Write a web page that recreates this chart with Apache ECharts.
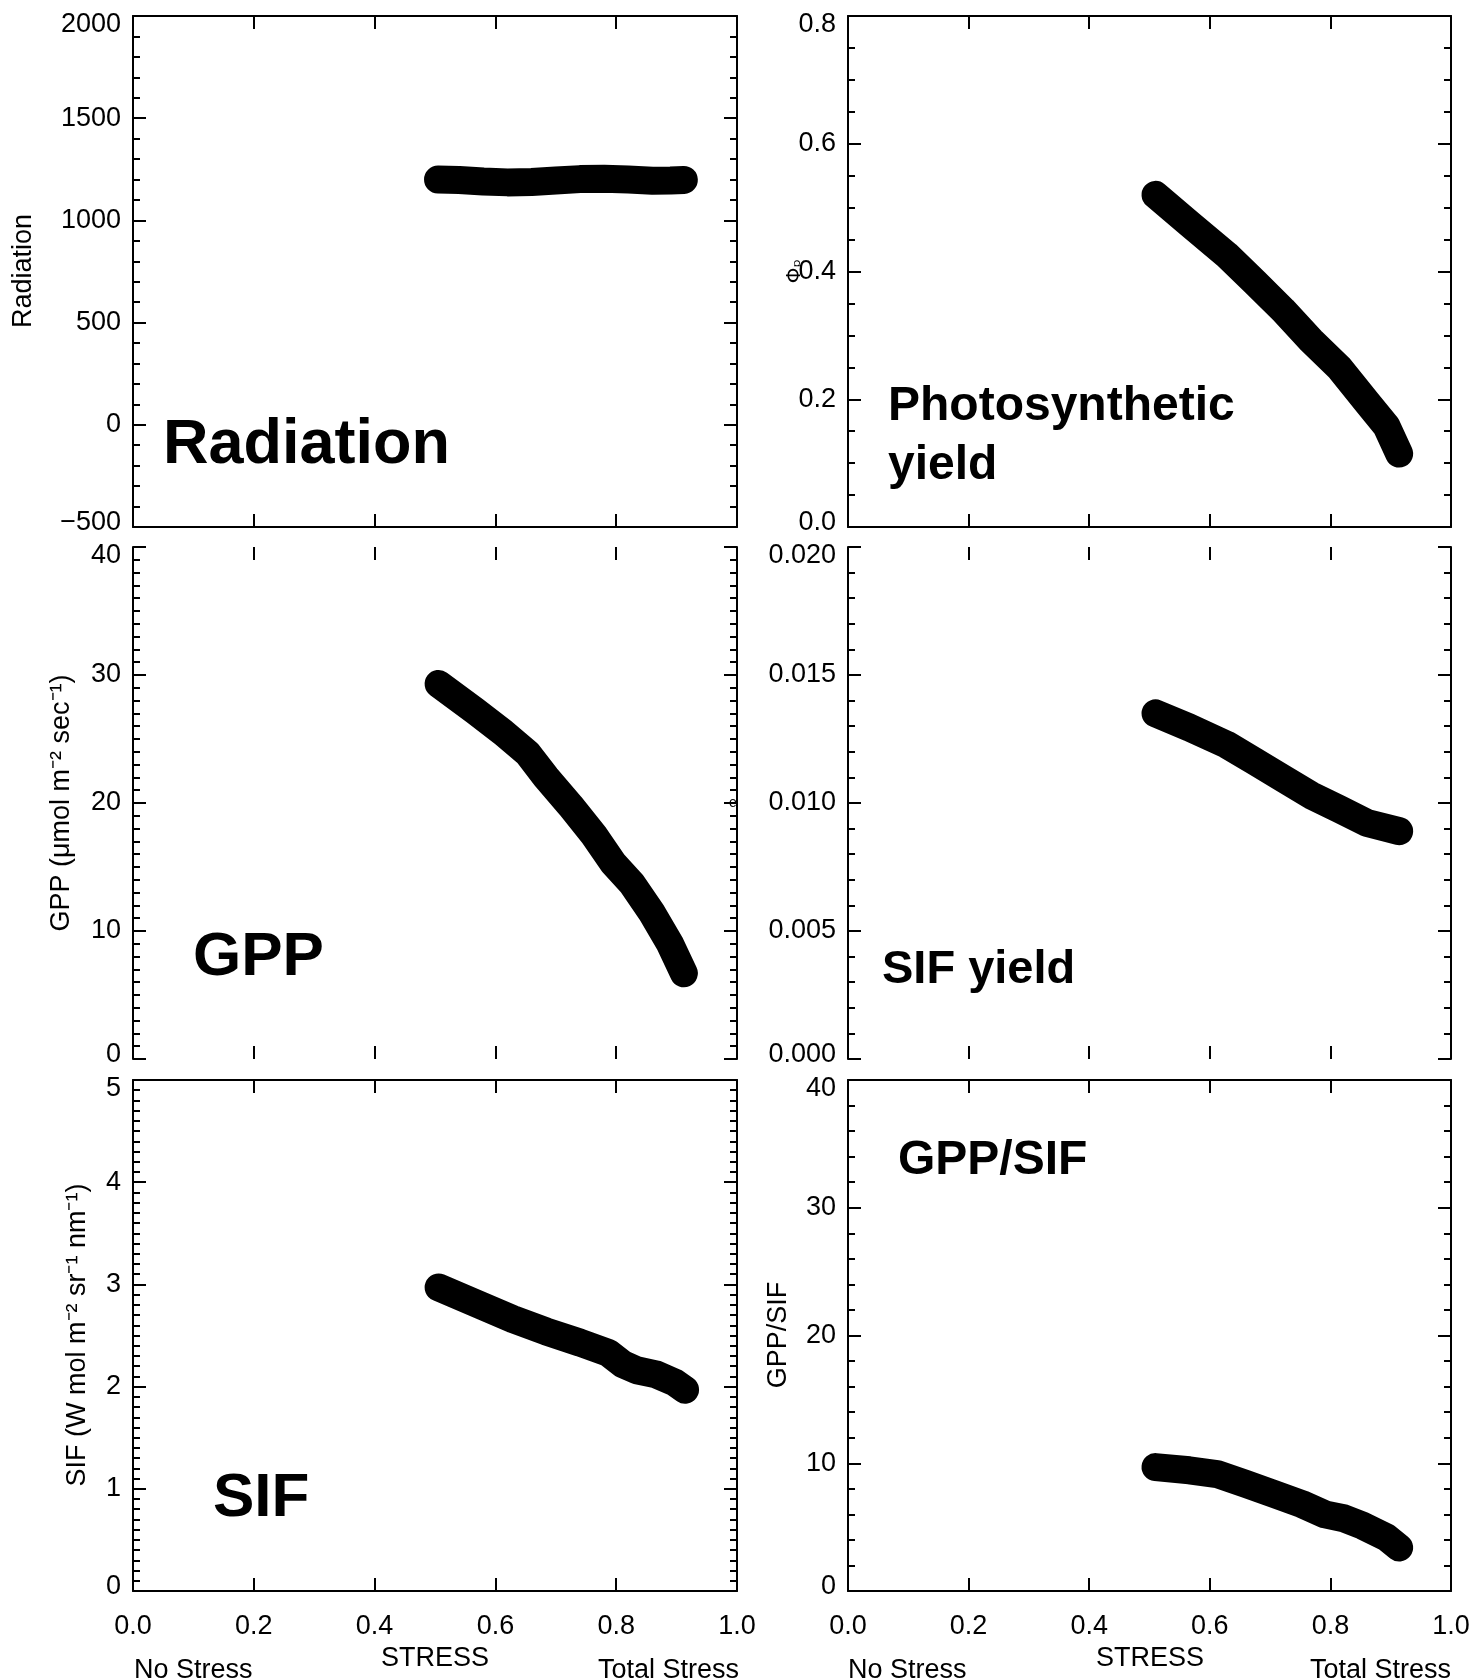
<!DOCTYPE html>
<html>
<head>
<meta charset="utf-8">
<script src="https://cdn.jsdelivr.net/npm/echarts@6/dist/echarts.min.js"></script>
<style>
html,body{margin:0;padding:0;background:#fff;}
#c{width:1473px;height:1680px;}
</style>
</head>
<body>
<div id="c"></div>
<script>
// ---- data ----
const stressTicks = [0.0, 0.2, 0.4, 0.6, 0.8, 1.0];

const radX = [0.505, 0.54, 0.58, 0.62, 0.66, 0.70, 0.74, 0.78, 0.82, 0.86, 0.89, 0.912];
const radY = [1200, 1198, 1190, 1186, 1188, 1195, 1202, 1204, 1200, 1194, 1195, 1198];

const phiX = [0.510, 0.566, 0.628, 0.675, 0.721, 0.768, 0.815, 0.861, 0.893, 0.914];
const phiY = [0.520, 0.475, 0.426, 0.383, 0.340, 0.292, 0.249, 0.195, 0.158, 0.115];

const gppX = [0.506, 0.566, 0.613, 0.653, 0.684, 0.724, 0.763, 0.795, 0.826, 0.858, 0.889, 0.912];
const gppY = [29.3, 27.2, 25.5, 23.9, 22.0, 19.8, 17.5, 15.3, 13.7, 11.5, 9.0, 6.7];

const syX = [0.510, 0.566, 0.628, 0.675, 0.721, 0.768, 0.815, 0.861, 0.914];
const syY = [0.01350, 0.01295, 0.01228, 0.01162, 0.01097, 0.01030, 0.00976, 0.00922, 0.00890];

const sifX = [0.506, 0.566, 0.629, 0.684, 0.740, 0.787, 0.811, 0.834, 0.866, 0.897, 0.914];
const sifY = [2.97, 2.82, 2.66, 2.54, 2.43, 2.33, 2.22, 2.16, 2.12, 2.04, 1.97];

const ratioX = [0.510, 0.566, 0.612, 0.659, 0.706, 0.753, 0.791, 0.822, 0.854, 0.893, 0.914];
const ratioY = [9.7, 9.45, 9.15, 8.4, 7.6, 6.8, 6.0, 5.7, 5.1, 4.2, 3.4];

// ---- layout ----
const COLS = [{left: 133, width: 604}, {left: 848, width: 603}];
const ROWS = [{top: 16, height: 511}, {top: 547, height: 512}, {top: 1080, height: 511}];
const LABEL_FONT = 'Liberation Sans';
const FS = 27;

const panels = [
  {col:0,row:0,x:radX,y:radY,min:-500,max:2000,interval:500,minor:5,dec:0,hlines:true,xlabels:false},
  {col:1,row:0,x:phiX,y:phiY,min:0,max:0.8,interval:0.2,minor:4,dec:1,hlines:true,xlabels:false},
  {col:0,row:1,x:gppX,y:gppY,min:0,max:40,interval:10,minor:10,dec:0,hlines:false,xlabels:false},
  {col:1,row:1,x:syX,y:syY,min:0,max:0.02,interval:0.005,minor:5,dec:3,hlines:false,xlabels:false},
  {col:0,row:2,x:sifX,y:sifY,min:0,max:5,interval:1,minor:10,dec:0,hlines:true,xlabels:true},
  {col:1,row:2,x:ratioX,y:ratioY,min:0,max:40,interval:10,minor:5,dec:0,hlines:true,xlabels:true}
];

const grid = [], xAxis = [], yAxis = [], series = [];
const axLine = (show) => ({show: show, onZero: false, lineStyle: {color: '#000', width: 2}});
const tick = {show: true, inside: true, length: 13, lineStyle: {color: '#000', width: 2}};
function fmt(v, d) {
  const s = Math.abs(v).toFixed(d);
  return (v < 0 ? '\u2212' : '') + s;
}

panels.forEach((p, i) => {
  const c = COLS[p.col], r = ROWS[p.row];
  grid.push({left: c.left, top: r.top, width: c.width, height: r.height, containLabel: false});
  ['bottom','top'].forEach((pos, k) => {
    xAxis.push({
      type: 'value', gridIndex: i, position: pos, min: 0, max: 1, interval: 0.2,
      axisLine: axLine(p.hlines), axisTick: tick, splitLine: {show: false},
      minorTick: {show: false},
      axisLabel: {show: p.xlabels && k === 0, margin: 22, color: '#000', fontFamily: LABEL_FONT, fontSize: FS,
                  formatter: v => fmt(v, 1)}
    });
  });
  const eps = p.interval * 1e-6;
  ['left','right'].forEach((pos, k) => {
    yAxis.push({
      type: 'value', gridIndex: i, position: pos, min: p.min, max: p.max, interval: p.interval,
      axisLine: axLine(true), axisTick: tick, splitLine: {show: false},
      minorTick: {show: true, splitNumber: p.minor, length: 7, lineStyle: {color: '#000', width: 2}},
      minorSplitLine: {show: false},
      axisLabel: {show: k === 0, margin: 12, color: '#000', fontFamily: LABEL_FONT, fontSize: FS,
                  formatter: v => {
                    const s = fmt(v, p.dec);
                    if (Math.abs(v - p.max) < eps) return '{mx|' + s + '}';
                    if (Math.abs(v - p.min) < eps) return '{mn|' + s + '}';
                    return s;
                  },
                  rich: {
                    mx: {fontFamily: LABEL_FONT, fontSize: FS, color: '#000', padding: [18, 0, 0, 0]},
                    mn: {fontFamily: LABEL_FONT, fontSize: FS, color: '#000', padding: [0, 0, 8, 0]}
                  }}
    });
  });
  series.push({
    type: 'line', xAxisIndex: i * 2, yAxisIndex: i * 2, symbol: 'none', silent: true,
    data: p.x.map((xv, j) => [xv, p.y[j]]),
    lineStyle: {color: '#000', width: 28, cap: 'round', join: 'round'}
  });
});

function txt(x, y, text, opts) {
  return Object.assign({
    type: 'text', x: x, y: y, silent: true,
    style: Object.assign({text: text, fill: '#000', fontFamily: LABEL_FONT, fontSize: FS,
      align: 'center', verticalAlign: 'middle'}, opts.style || {})
  }, opts.el || {});
}
const ROT = {rotation: Math.PI / 2};
const big = (x, y, t, size) => txt(x, y, t, {style: {fontSize: size, fontWeight: 'bold', align: 'left'}});

const graphic = [
  // y-axis titles
  txt(24, 271, 'Radiation', {el: ROT}),
  txt(795, 271, 'Φₚ', {el: ROT, style: {fontFamily: 'DejaVu Sans', fontSize: 20}}),
  txt(62, 803, 'GPP (μmol m⁻² sec⁻¹)', {el: ROT}),
  txt(733, 803, 'e', {style: {fontSize: 14}}),
  txt(78, 1335, 'SIF (W mol m⁻² sr⁻¹ nm⁻¹)', {el: ROT}),
  txt(779, 1335, 'GPP/SIF', {el: ROT}),
  // x-axis titles
  txt(435, 1659, 'STRESS', {}),
  txt(134, 1671, 'No Stress', {style: {align: 'left'}}),
  txt(739, 1671, 'Total Stress', {style: {align: 'right'}}),
  txt(1150, 1659, 'STRESS', {}),
  txt(848, 1671, 'No Stress', {style: {align: 'left'}}),
  txt(1451, 1671, 'Total Stress', {style: {align: 'right'}}),
  // panel labels
  big(163, 446, 'Radiation', 63),
  big(888, 407, 'Photosynthetic', 48),
  big(888, 466, 'yield', 48),
  big(193, 958, 'GPP', 62),
  big(882, 970, 'SIF yield', 47),
  big(213, 1499, 'SIF', 62),
  big(898, 1161, 'GPP/SIF', 48)
];

const chart = echarts.init(document.getElementById('c'), null, {renderer: 'canvas'});
chart.setOption({
  animation: false,
  backgroundColor: '#fff',
  grid: grid, xAxis: xAxis, yAxis: yAxis, series: series, graphic: graphic
});
</script>
</body>
</html>
